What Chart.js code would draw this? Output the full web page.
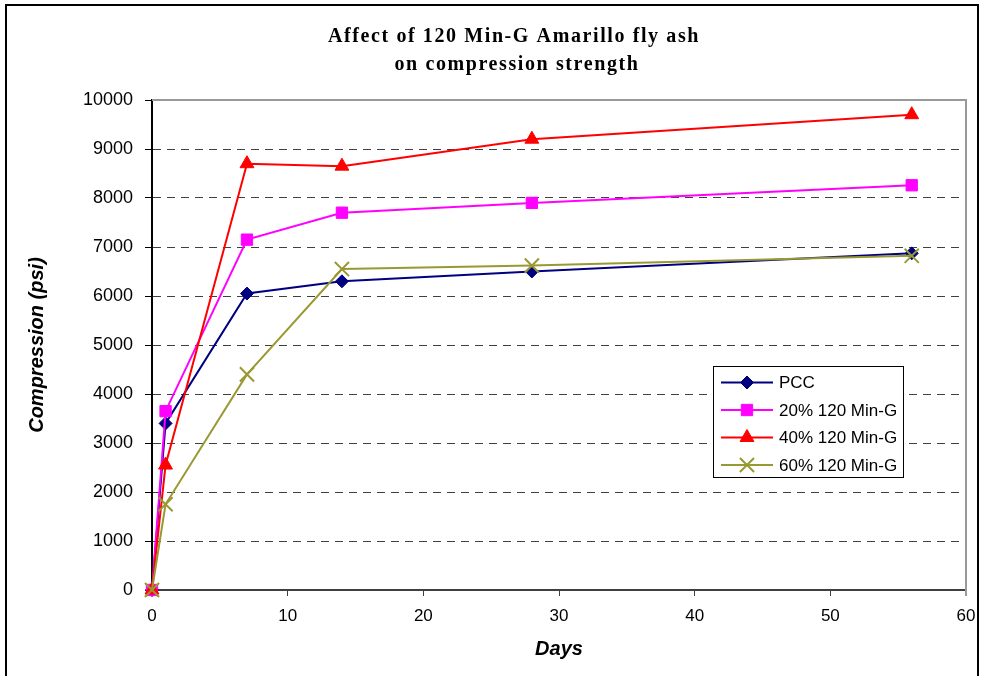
<!DOCTYPE html>
<html><head><meta charset="utf-8">
<script src="https://cdn.jsdelivr.net/npm/chart.js@4.4.0/dist/chart.umd.min.js"></script>
<style>html,body{margin:0;padding:0;background:#fff;overflow:hidden}canvas{display:block}</style>
</head><body>
<canvas id="c" width="981" height="676"></canvas>
<script>
// ---- data ----
const titleLines = ['Affect of 120 Min-G Amarillo fly ash', 'on compression strength'];
const xTitle = 'Days';
const yTitle = 'Compression (psi)';
const days = [0, 1, 7, 14, 28, 56];
const seriesLabels = ['PCC', '20% 120 Min-G', '40% 120 Min-G', '60% 120 Min-G'];
const pcc   = [0, 3400, 6050, 6300, 6500, 6870];
const min20 = [0, 3650, 7150, 7700, 7900, 8260];
const min40 = [0, 2550, 8700, 8650, 9200, 9700];
const min60 = [0, 1750, 4400, 6550, 6620, 6820];
const xTicks = [0, 10, 20, 30, 40, 50, 60];
const yTicks = [0, 1000, 2000, 3000, 4000, 5000, 6000, 7000, 8000, 9000, 10000];

const seriesValues = [pcc, min20, min40, min60];
const colors = ['#000080', '#FF00FF', '#FF0000', '#999933'];
const styles = ['rectRot', 'rect', 'triangle', 'crossRot'];
const radii = [6.5, 8, 8, 10];

Chart.defaults.font.family = '"Liberation Sans", Arial, sans-serif';
Chart.defaults.color = '#000';

const datasets = seriesLabels.map((lab, i) => ({
  label: lab,
  data: days.map((d, j) => ({x: d, y: seriesValues[i][j]})),
  borderColor: colors[i],
  backgroundColor: colors[i],
  pointBackgroundColor: colors[i],
  pointBorderColor: colors[i],
  pointStyle: styles[i],
  pointRadius: radii[i],
  pointBorderWidth: i === 3 ? 2 : 1,
  borderWidth: 2,
  showLine: true,
  tension: 0,
  clip: false,
  order: 4 - i
}));

const framePlugin = {
  id: 'frame',
  beforeDatasetsDraw(chart) {
    const {ctx, chartArea: a} = chart;
    ctx.save();
    ctx.strokeStyle = '#999999';
    ctx.lineWidth = 2;
    ctx.beginPath();
    ctx.moveTo(a.left, a.top);
    ctx.lineTo(a.right, a.top);
    ctx.lineTo(a.right, a.bottom + 6);
    ctx.stroke();
    ctx.restore();
  },
  afterDraw(chart) {
    const {ctx} = chart;
    ctx.save();
    // outer frame
    ctx.strokeStyle = '#000';
    ctx.lineWidth = 2;
    ctx.strokeRect(6, 5, 972, 720);
    // title
    ctx.fillStyle = '#000';
    ctx.font = 'bold 20px "Liberation Serif", "Times New Roman", serif';
    ctx.textAlign = 'center';
    ctx.textBaseline = 'alphabetic';
    try { ctx.letterSpacing = '1.6px'; } catch (e) {}
    ctx.fillText(titleLines[0], 514, 42);
    ctx.fillText(titleLines[1], 517, 70);
    try { ctx.letterSpacing = '0px'; } catch (e) {}
    // legend
    const lx = 713, ly = 366, lw = 190, lh = 111;
    ctx.fillStyle = '#fff';
    ctx.fillRect(lx, ly, lw, lh);
    ctx.strokeStyle = '#000';
    ctx.lineWidth = 1;
    ctx.strokeRect(lx + 0.5, ly + 0.5, lw, lh);
    ctx.font = '17px "Liberation Sans", Arial, sans-serif';
    ctx.textAlign = 'left';
    ctx.textBaseline = 'middle';
    chart.data.datasets.forEach((ds, i) => {
      const y = ly + 16.5 + i * 27.5;
      ctx.strokeStyle = ds.borderColor;
      ctx.lineWidth = 2;
      ctx.beginPath();
      ctx.moveTo(lx + 8, y);
      ctx.lineTo(lx + 60, y);
      ctx.stroke();
      ctx.fillStyle = ds.pointBackgroundColor;
      ctx.strokeStyle = ds.pointBorderColor;
      ctx.lineWidth = ds.pointBorderWidth;
      Chart.helpers.drawPoint(ctx, {pointStyle: ds.pointStyle, radius: ds.pointRadius, rotation: 0, borderWidth: ds.pointBorderWidth}, lx + 34, y);
      ctx.fillStyle = '#000';
      ctx.fillText(ds.label, lx + 66, y + 1);
    });
    ctx.restore();
  }
};

new Chart(document.getElementById('c'), {
  type: 'scatter',
  data: {datasets},
  options: {
    responsive: false,
    animation: false,
    devicePixelRatio: 1,
    layout: {padding: {top: 100, right: 15, left: 0, bottom: 0}},
    plugins: {legend: {display: false}, title: {display: false}, tooltip: {enabled: false}},
    scales: {
      x: {
        type: 'linear', min: xTicks[0], max: xTicks[xTicks.length - 1],
        afterBuildTicks: s => { s.ticks = xTicks.map(v => ({value: v})); },
        afterFit: s => { s.height = 86; s.paddingLeft = 0; s.paddingRight = 0; },
        ticks: {font: {size: 17}, color: '#000', padding: 10, maxRotation: 0, callback: v => String(v)},
        grid: {display: true, drawOnChartArea: false, drawTicks: true, tickLength: 6, tickColor: '#404040', tickWidth: 1, color: 'rgba(0,0,0,0)'},
        border: {display: true, color: '#404040', width: 2},
        title: {display: true, text: xTitle, font: {size: 20, weight: 'bold', style: 'italic'}, color: '#000', padding: {top: 0, bottom: 15}}
      },
      y: {
        type: 'linear', min: yTicks[0], max: yTicks[yTicks.length - 1],
        afterBuildTicks: s => { s.ticks = yTicks.map(v => ({value: v})); },
        afterFit: s => { s.width = 152; s.paddingTop = 0; s.paddingBottom = 0; },
        ticks: {font: {size: 18}, color: '#000', padding: 12, callback: v => String(v)},
        grid: {
          drawOnChartArea: true, drawTicks: true, tickLength: 7, tickColor: '#000', tickWidth: 1, lineWidth: 1,
          color: c => (c.tick && (c.tick.value === yTicks[0] || c.tick.value === yTicks[yTicks.length - 1])) ? 'rgba(0,0,0,0)' : '#404040'
        },
        border: {display: true, color: '#000', width: 2, dash: [8, 6]},
        title: {display: true, text: yTitle, font: {size: 20, weight: 'bold', style: 'italic'}, color: '#000', padding: {top: 25, bottom: 0}}
      }
    }
  },
  plugins: [framePlugin]
});
</script>
</body></html>
